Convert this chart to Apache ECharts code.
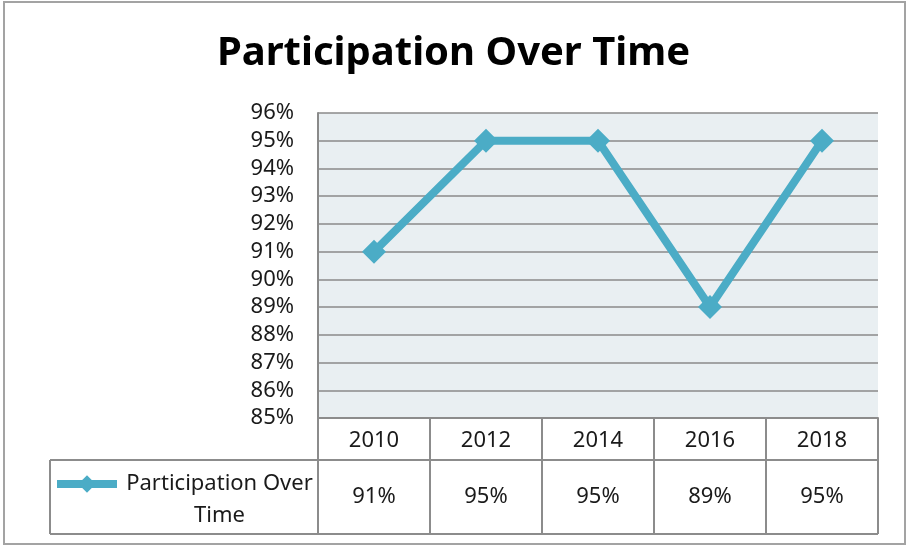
<!DOCTYPE html>
<html>
<head>
<meta charset="utf-8">
<script src="https://cdn.jsdelivr.net/npm/echarts@6/dist/echarts.min.js"></script>
<style>
  html, body { margin: 0; padding: 0; background: #fff; }
  #chart { width: 907px; height: 546px; }
</style>
</head>
<body>
<div id="chart"></div>
<script>
const seriesName = 'Participation Over Time';
const years = ['2010', '2012', '2014', '2016', '2018'];
const participation = [91, 95, 95, 89, 95];
const yMin = 85;
const yMax = 96;
const yStep = 1;

const lineColor = '#4bacc6';
const gridColor = '#8a8a8a';
const tableColor = '#8c8c8c';
const font = 'Noto Sans';

const chart = echarts.init(document.getElementById('chart'));

const option = {
    animation: false,
    title: {
        text: 'Participation Over Time',
        left: 'center',
        top: 29,
        textStyle: { fontFamily: font, fontWeight: 'bold', fontSize: 40, color: '#000' }
    },
    grid: {
        left: 318, right: 29, top: 113, bottom: 128,
        show: true, backgroundColor: '#e9eff2', borderWidth: 0
    },
    legend: {
        left: 53, top: 441, padding: 0,
        selectedMode: false,
        itemWidth: 60, itemHeight: 22,
        lineStyle: { width: 8 },
        formatter: () => '{e|}\n{a|Participation Over}\n{a|Time}',
        textStyle: {
            rich: {
                e: { lineHeight: 32, fontSize: 22 },
                a: { width: 195, align: 'center', fontFamily: font, fontSize: 22, lineHeight: 32, color: '#1a1a1a' }
            }
        },
        data: [seriesName]
    },
    xAxis: {
        type: 'category',
        data: years,
        boundaryGap: true,
        axisLine: { lineStyle: { color: tableColor, width: 2 } },
        axisTick: { show: true, length: 116, lineStyle: { color: tableColor, width: 2 } },
        axisLabel: {
            margin: 12,
            formatter: (v, i) => '{y|' + v + '}\n{v|' + participation[i] + '%}',
            rich: {
                y: { fontFamily: font, fontSize: 22, lineHeight: 22, color: '#1a1a1a' },
                v: { fontFamily: font, fontSize: 22, lineHeight: 90, color: '#1a1a1a' }
            }
        }
    },
    yAxis: {
        type: 'value',
        min: yMin, max: yMax, interval: yStep,
        axisLine: { show: true, lineStyle: { color: gridColor, width: 2 } },
        axisTick: { show: false },
        splitLine: { lineStyle: { color: gridColor, width: 1.5 } },
        axisLabel: { margin: 24, formatter: '{value}%', fontFamily: font, fontSize: 22, color: '#1a1a1a' }
    },
    series: [{
        name: seriesName,
        type: 'line',
        data: participation,
        symbol: 'diamond',
        symbolSize: 24,
        lineStyle: { color: lineColor, width: 8 },
        itemStyle: { color: lineColor }
    }],
    graphic: [
        { type: 'rect', shape: { x: 4, y: 2, width: 901, height: 542 }, style: { fill: 'none', stroke: '#a3a3a3', lineWidth: 2 }, silent: true },
        { type: 'line', shape: { x1: 50, y1: 460, x2: 878, y2: 460 }, style: { stroke: tableColor, lineWidth: 2 }, silent: true },
        { type: 'line', shape: { x1: 50, y1: 534, x2: 878, y2: 534 }, style: { stroke: tableColor, lineWidth: 2 }, silent: true },
        { type: 'line', shape: { x1: 50, y1: 460, x2: 50, y2: 534 }, style: { stroke: tableColor, lineWidth: 2 }, silent: true }
    ]
};

chart.setOption(option);
</script>
</body>
</html>
